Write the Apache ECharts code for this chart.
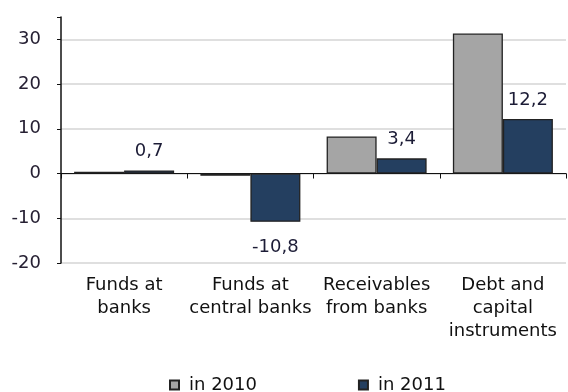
<!DOCTYPE html>
<html>
<head>
<meta charset="utf-8">
<script src="https://cdn.jsdelivr.net/npm/echarts@6/dist/echarts.min.js"></script>
<style>html,body{margin:0;padding:0;background:#fff}#c{width:568px;height:392px}</style>
</head>
<body>
<div id="c"></div>
<script>
var categories = ['Funds at\nbanks', 'Funds at\ncentral banks', 'Receivables\nfrom banks', 'Debt and\ncapital\ninstruments'];
var seriesNames = ['in 2010', 'in 2011'];
var values2010 = [0.4, -0.5, 8.3, 31.3];
var values2011 = [0.7, -10.8, 3.4, 12.2];
var yMin = -20, yMax = 35, yStep = 10;

var FONT = 'DejaVu Sans';
var chart = echarts.init(document.getElementById('c'), null, {renderer: 'canvas'});
function fmt(v) { return String(v).replace('.', ','); }
chart.setOption({
  animation: false,
  textStyle: {fontFamily: FONT},
  grid: {left: 61, right: 2, top: 17, bottom: 129, containLabel: false},
  legend: {
    data: seriesNames,
    left: 164, top: 371,
    itemWidth: 9, itemHeight: 9, itemGap: 101,
    icon: 'rect',
    textStyle: {fontFamily: FONT, fontSize: 18, color: '#111', padding: [0, 0, 0, 5]}
  },
  xAxis: [{
    type: 'category', data: categories,
    axisLine: {onZero: true, lineStyle: {color: '#111', width: 1}},
    axisTick: {show: true, length: 5, lineStyle: {color: '#111'}},
    axisLabel: {show: false},
    splitLine: {show: false}
  }, {
    type: 'category', data: categories, position: 'bottom',
    axisLine: {show: false, onZero: false},
    axisTick: {show: false},
    axisLabel: {interval: 0, margin: 11, fontFamily: FONT, fontSize: 18, lineHeight: 23, color: '#111'}
  }],
  yAxis: {
    type: 'value', min: yMin, max: yMax, interval: yStep,
    axisLine: {show: true, lineStyle: {color: '#111', width: 1.5}},
    axisTick: {show: true, length: 4, lineStyle: {color: '#111'}},
    axisLabel: {margin: 20, fontFamily: FONT, fontSize: 18, color: '#262033',
      formatter: function (v) { return v === yMax ? '' : String(v); }},
    splitLine: {show: true, showMaxLine: false, lineStyle: {color: '#d4d4d4', width: 1.5, type: 'solid'}}
  },
  series: [{
    name: seriesNames[0], type: 'bar', xAxisIndex: 0,
    data: values2010, barWidth: 50, barGap: '0%',
    itemStyle: {color: '#a5a5a5', borderColor: '#222', borderWidth: 1.3}
  }, {
    name: seriesNames[1], type: 'bar', xAxisIndex: 0,
    data: values2011.map(function (v) {
      return {value: v, label: {position: v < 0 ? 'bottom' : 'top', distance: v < 0 ? 16 : 10}};
    }),
    barWidth: 50,
    itemStyle: {color: '#243f60', borderColor: '#222', borderWidth: 1.3},
    label: {show: true, distance: 10, fontFamily: FONT, fontSize: 18, color: '#1c1c36',
      formatter: function (p) { return fmt(p.value); }}
  }]
});
</script>
</body>
</html>
